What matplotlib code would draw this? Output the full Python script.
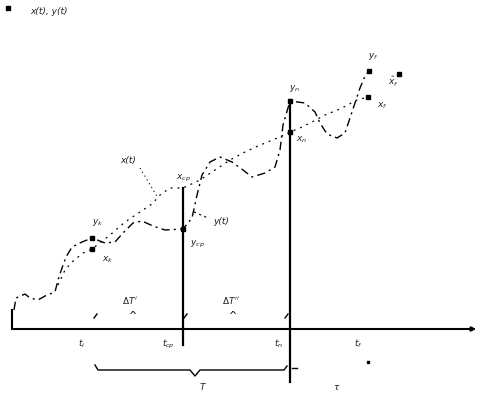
import numpy as np
import matplotlib.pyplot as plt

# curve points (diagram units, y grows downward like the picture)
y_curve_x = [14, 16, 25, 30, 38, 45, 55, 58, 62, 66, 72, 82, 92, 105, 115, 123, 133, 142, 153, 165, 183,
             192, 197, 202, 210, 220, 232, 243, 252, 265, 275, 280, 283, 290,
             305, 315, 320, 327, 337, 345, 350, 355, 360, 365, 369]
y_curve_y = [310, 298, 294, 298, 300, 296, 292, 280, 268, 257, 247, 242, 238, 243, 242, 233, 223, 221, 226, 230, 229,
             218, 195, 175, 162, 157, 162, 170, 177, 173, 167, 150, 125, 101,
             103, 112, 123, 134, 138, 133, 118, 103, 88, 76, 71]
x_curve_x = [58, 65, 72, 83, 92, 110, 125, 140, 152, 160, 170, 183, 200, 215, 230, 245, 258, 270, 280, 290,
             300, 312, 325, 340, 357, 368]
x_curve_y = [285, 270, 262, 253, 249, 235, 222, 212, 204, 195, 188, 188, 180, 170, 160, 152, 146, 141, 137, 132,
             128, 122, 115, 109, 100, 97]

# marked points
pt_x = [92, 92, 183, 290, 290, 369, 368, 399]
pt_y = [238, 249, 229, 101, 132, 71, 97, 74]

# labels
labels = ['x(t), y(t)', 'x(t)', 'y(t)', '$x_{cp}$', '$y_{cp}$', '$y_k$', '$x_k$', '$y_n$', '$x_n$',
          '$y_f$', '$x_f$', '$\\hat{x}_f$', '$t_i$', '$t_{cp}$', '$t_n$', '$t_f$', 'T', '$\\tau$',
          "$\\Delta T'$", "$\\Delta T''$"]
lab_x = [30, 120, 213, 176, 190, 92, 102, 289, 296, 368, 377, 388, 78, 162, 274, 354, 200, 333, 122, 222]
lab_y = [12, 160, 222, 178, 244, 222, 260, 88, 140, 56, 106, 82, 344, 344, 344, 344, 388, 387, 300, 300]

fig = plt.figure(figsize=(4.8, 3.96), dpi=100)
ax = fig.add_axes([0, 0, 1, 1])
ax.set_xlim(0, 480)
ax.set_ylim(396, 0)
ax.axis('off')

# axes of the sketch
ax.annotate('', xy=(479, 329), xytext=(11, 329),
            arrowprops=dict(arrowstyle='-|>', lw=1.5, color='black', mutation_scale=6))
ax.plot([12, 12], [310, 329], color='black', lw=1.5)
ax.plot([8], [8], 's', color='black', ms=3)

# vertical lines
ax.plot([183, 183], [188, 345], color='black', lw=1.6)
ax.plot([290, 290], [100, 382], color='black', lw=1.6)

# curves
ax.plot(y_curve_x, y_curve_y, color='black', lw=1, ls=(0, (6, 3, 1.5, 3)))
ax.plot(x_curve_x, x_curve_y, color='black', lw=0.9, ls=(0, (1.5, 4)))
ax.plot(pt_x, pt_y, 's', color='black', ms=3.5)

# leaders
ax.plot([140, 158], [168, 198], color='black', lw=0.8, ls=(0, (1, 3)))
ax.plot([194, 208], [212, 218], color='black', lw=0.8, ls=(0, (2, 3)))

# bracket under the axis
ax.plot([95, 98, 190, 195, 200, 284, 287], [365, 370, 370, 376, 370, 370, 366], color='black', lw=1)
ax.plot([292, 297], [368, 368], color='black', lw=1)
ax.plot([368], [362], 's', color='black', ms=1.5)

# small marks above the axis
for mx in [97, 187, 288]:
    ax.plot([mx - 3, mx], [318, 314], color='black', lw=1)
for mx in [133, 233]:
    ax.text(mx, 316, '^', fontsize=7, ha='center', va='center')

for t, lx, ly in zip(labels, lab_x, lab_y):
    ax.text(lx, ly, t, fontsize=6.5, style='italic', ha='left', va='center', color='#222222')

fig.savefig('out.png', dpi=100)
